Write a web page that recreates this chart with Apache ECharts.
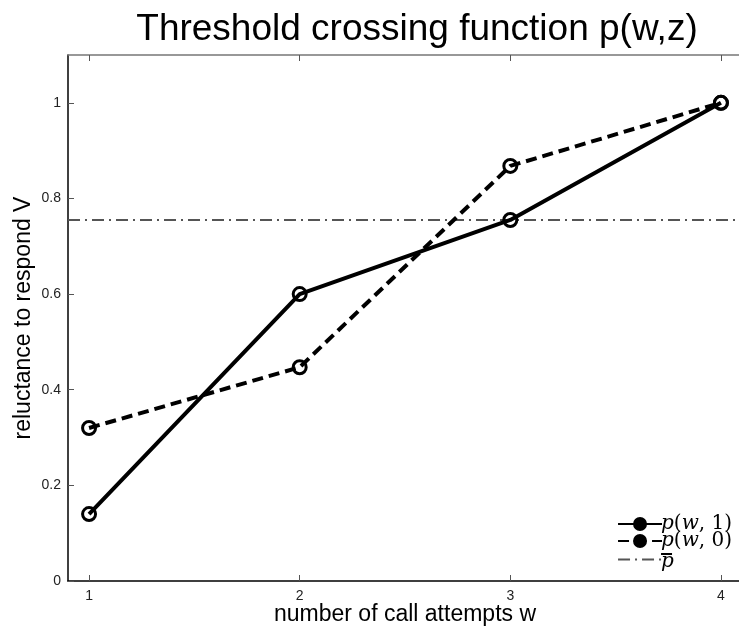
<!DOCTYPE html>
<html>
<head>
<meta charset="utf-8">
<script src="https://cdn.jsdelivr.net/npm/echarts@6/dist/echarts.min.js"></script>
<style>
  html, body { margin: 0; padding: 0; background: #fff; }
  #chart { width: 739px; height: 632px; }
</style>
</head>
<body>
<div id="chart"></div>
<script>
// data
var attempts = [1, 2, 3, 4];
var pw1 = [0.14, 0.60, 0.755, 1.0];
var pw0 = [0.32, 0.447, 0.868, 1.0];
var pbar = 0.755;
var yTicks = [0, 0.2, 0.4, 0.6, 0.8, 1];

var myChart = echarts.init(document.getElementById('chart'));

// legend texts in a TeX-like look
var legendRich = {
    i: { fontFamily: 'DejaVu Serif', fontStyle: 'italic', fontSize: 20, lineHeight: 15, color: '#000' },
    n: { fontFamily: 'DejaVu Serif', fontSize: 20, lineHeight: 15, color: '#000' },
    ip: { fontFamily: 'DejaVu Serif', fontStyle: 'italic', fontSize: 20, lineHeight: 11, color: '#000' },
    o: { width: 11, height: 2, lineHeight: 4, backgroundColor: '#000', padding: 0 }
};
var legendText = {
    'p(w, 1)': '{i|p}{n|(}{i|w}{n|, 1)}',
    'p(w, 0)': '{i|p}{n|(}{i|w}{n|, 0)}',
    'pbar': '{o| }\n{ip|p}'
};

function pairs(ys) {
    return attempts.map(function (x, i) { return [x, ys[i]]; });
}

var markerStyle = { color: 'rgba(0,0,0,0)', borderColor: '#000', borderWidth: 3 };

myChart.setOption({
    backgroundColor: '#fff',
    animation: false,
    title: {
        text: 'Threshold crossing function p(w,z)',
        left: 412,
        top: 6,
        textAlign: 'center',
        textStyle: { fontFamily: 'Liberation Sans', fontSize: 37, fontWeight: 'normal', color: '#000' }
    },
    legend: {
        right: 2,
        top: 509,
        orient: 'vertical',
        align: 'left',
        itemWidth: 44,
        itemHeight: 15,
        itemGap: -3,
        data: [
            { name: 'p(w, 1)', itemStyle: { color: '#000' } },
            { name: 'p(w, 0)', itemStyle: { color: '#000' } },
            { name: 'pbar', itemStyle: { opacity: 0 } }
        ],
        formatter: function (name) { return legendText[name]; },
        textStyle: { rich: legendRich, padding: [0, 0, 0, -6] }
    },
    grid: { left: 68, right: -3, top: 55, bottom: 51, outerBoundsMode: 'none', containLabel: false },
    xAxis: [{
        type: 'value',
        min: 0.9,
        max: 4.1,
        name: 'number of call attempts w',
        nameLocation: 'middle',
        nameGap: 22,
        nameMoveOverlap: false,
        nameTextStyle: { fontFamily: 'Liberation Sans', fontSize: 23, color: '#000' },
        axisLine: { show: true, onZero: false, lineStyle: { color: '#000', width: 1.5 } },
        axisTick: { show: true, inside: true, length: 6, customValues: attempts, lineStyle: { color: '#555' } },
        axisLabel: { customValues: attempts, margin: 8, fontFamily: 'Liberation Sans', fontSize: 14, color: '#222' },
        splitLine: { show: false }
    }, {
        type: 'value',
        position: 'top',
        min: 0.9,
        max: 4.1,
        axisLine: { show: true, onZero: false, lineStyle: { color: '#777', width: 1.5 } },
        axisTick: { show: true, inside: true, length: 6, customValues: attempts, lineStyle: { color: '#555' } },
        axisLabel: { show: false },
        splitLine: { show: false }
    }],
    yAxis: {
        type: 'value',
        min: 0,
        max: 1.1,
        interval: 0.2,
        name: 'reluctance to respond V',
        nameLocation: 'middle',
        nameGap: 33,
        nameMoveOverlap: false,
        nameTextStyle: { fontFamily: 'Liberation Sans', fontSize: 23, color: '#000' },
        axisLine: { show: true, onZero: false, lineStyle: { color: '#000', width: 1.5 } },
        axisTick: { show: true, inside: true, length: 6, customValues: yTicks, lineStyle: { color: '#555' } },
        axisLabel: {
            customValues: yTicks,
            margin: 7,
            fontFamily: 'Liberation Sans',
            fontSize: 14,
            color: '#222'
        },
        splitLine: { show: false }
    },
    series: [{
        name: 'p(w, 1)',
        type: 'line',
        data: pairs(pw1),
        symbol: 'circle',
        symbolSize: 13,
        itemStyle: markerStyle,
        lineStyle: { color: '#000', width: 4 },
        z: 3
    }, {
        name: 'p(w, 0)',
        type: 'line',
        data: pairs(pw0),
        symbol: 'circle',
        symbolSize: 13,
        itemStyle: markerStyle,
        lineStyle: { color: '#000', width: 4, type: [11, 6] },
        z: 2
    }, {
        name: 'pbar',
        type: 'line',
        data: [[0.9, pbar], [4.1, pbar]],
        symbol: 'none',
        itemStyle: { color: '#555' },
        lineStyle: { color: '#555', width: 2, type: [12, 5, 2, 5] },
        z: 1
    }]
});
</script>
</body>
</html>
